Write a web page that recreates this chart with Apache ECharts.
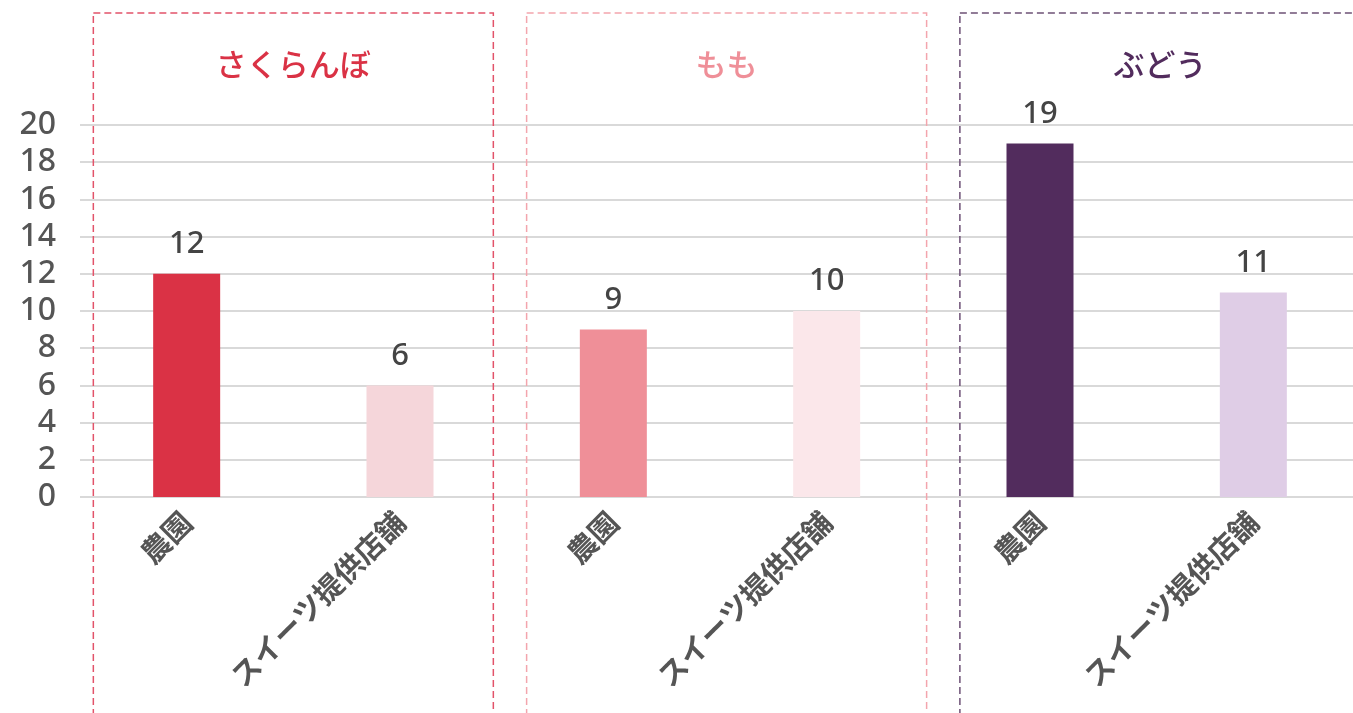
<!DOCTYPE html>
<html><head><meta charset="utf-8">
<script src="https://cdn.jsdelivr.net/npm/echarts@6/dist/echarts.min.js"></script>
<style>html,body{margin:0;padding:0;background:#fff}#c{width:1353px;height:713px}</style>
</head><body><div id="c"></div>
<script>
const categories = ['農園','スイーツ提供店舗','農園','スイーツ提供店舗','農園','スイーツ提供店舗'];
const values = [12, 6, 9, 10, 19, 11];
const barColors = ['#DA3245','#F5D6DA','#EF8F98','#FBE7EA','#522C5D','#DFCDE6'];
const groups = ['さくらんぼ','もも','ぶどう'];
const groupColors = ['#DA3245','#EF8F98','#522C5D'];
const boxColors = ['#E2536A','#F3A5AD','#6E5176'];
const yTicks = {min:0, max:20, interval:2};

const FONT = '"Noto Sans CJK JP","Noto Sans",sans-serif';
const NUMFONT = '"Noto Sans","Noto Sans CJK JP",sans-serif';
const chart = echarts.init(document.getElementById('c'));
chart.setOption({
  animation:false,
  grid:{left:80, width:1280, top:125, bottom:216, outerBoundsMode:'none', containLabel:false},
  xAxis:{type:'category', data:categories,
    axisLine:{show:false}, axisTick:{show:false},
    axisLabel:{rotate:45, interval:0, margin:20, color:'#555', fontSize:29, fontWeight:'bold', fontFamily:FONT}},
  yAxis:{type:'value', min:yTicks.min, max:yTicks.max, interval:yTicks.interval,
    axisLabel:{color:'#555', fontSize:32, fontWeight:500, margin:24, fontFamily:NUMFONT},
    splitLine:{lineStyle:{color:'#d9d9d9', width:2}}},
  series:[{type:'bar', barWidth:67,
    data: values.map((v,i)=>({value:v, itemStyle:{color:barColors[i]}})),
    label:{show:true, position:'top', distance:14, color:'#444', fontSize:31, fontWeight:500, fontFamily:NUMFONT}}]
});
const c0 = chart.convertToPixel({xAxisIndex:0}, 0);
const c1 = chart.convertToPixel({xAxisIndex:0}, 1);
const band = c1 - c0;
const half = band * 0.9375;
const step = band * 2.031;
const mid0 = (c0 + c1) / 2;
const els = [];
groups.forEach((g,i)=>{
  const cx = mid0 + i*step;
  els.push({type:'rect', shape:{x:cx-half, y:13, width:half*2, height:760},
    style:{fill:'none', stroke:boxColors[i], lineWidth:1.5, lineDash:[7,4]}});
  els.push({type:'text', x:cx, y:64, style:{text:g, fill:groupColors[i], fontSize:31, fontWeight:500, fontFamily:FONT, align:'center', verticalAlign:'middle'}});
});
chart.setOption({graphic:{elements:els}});
</script></body></html>
